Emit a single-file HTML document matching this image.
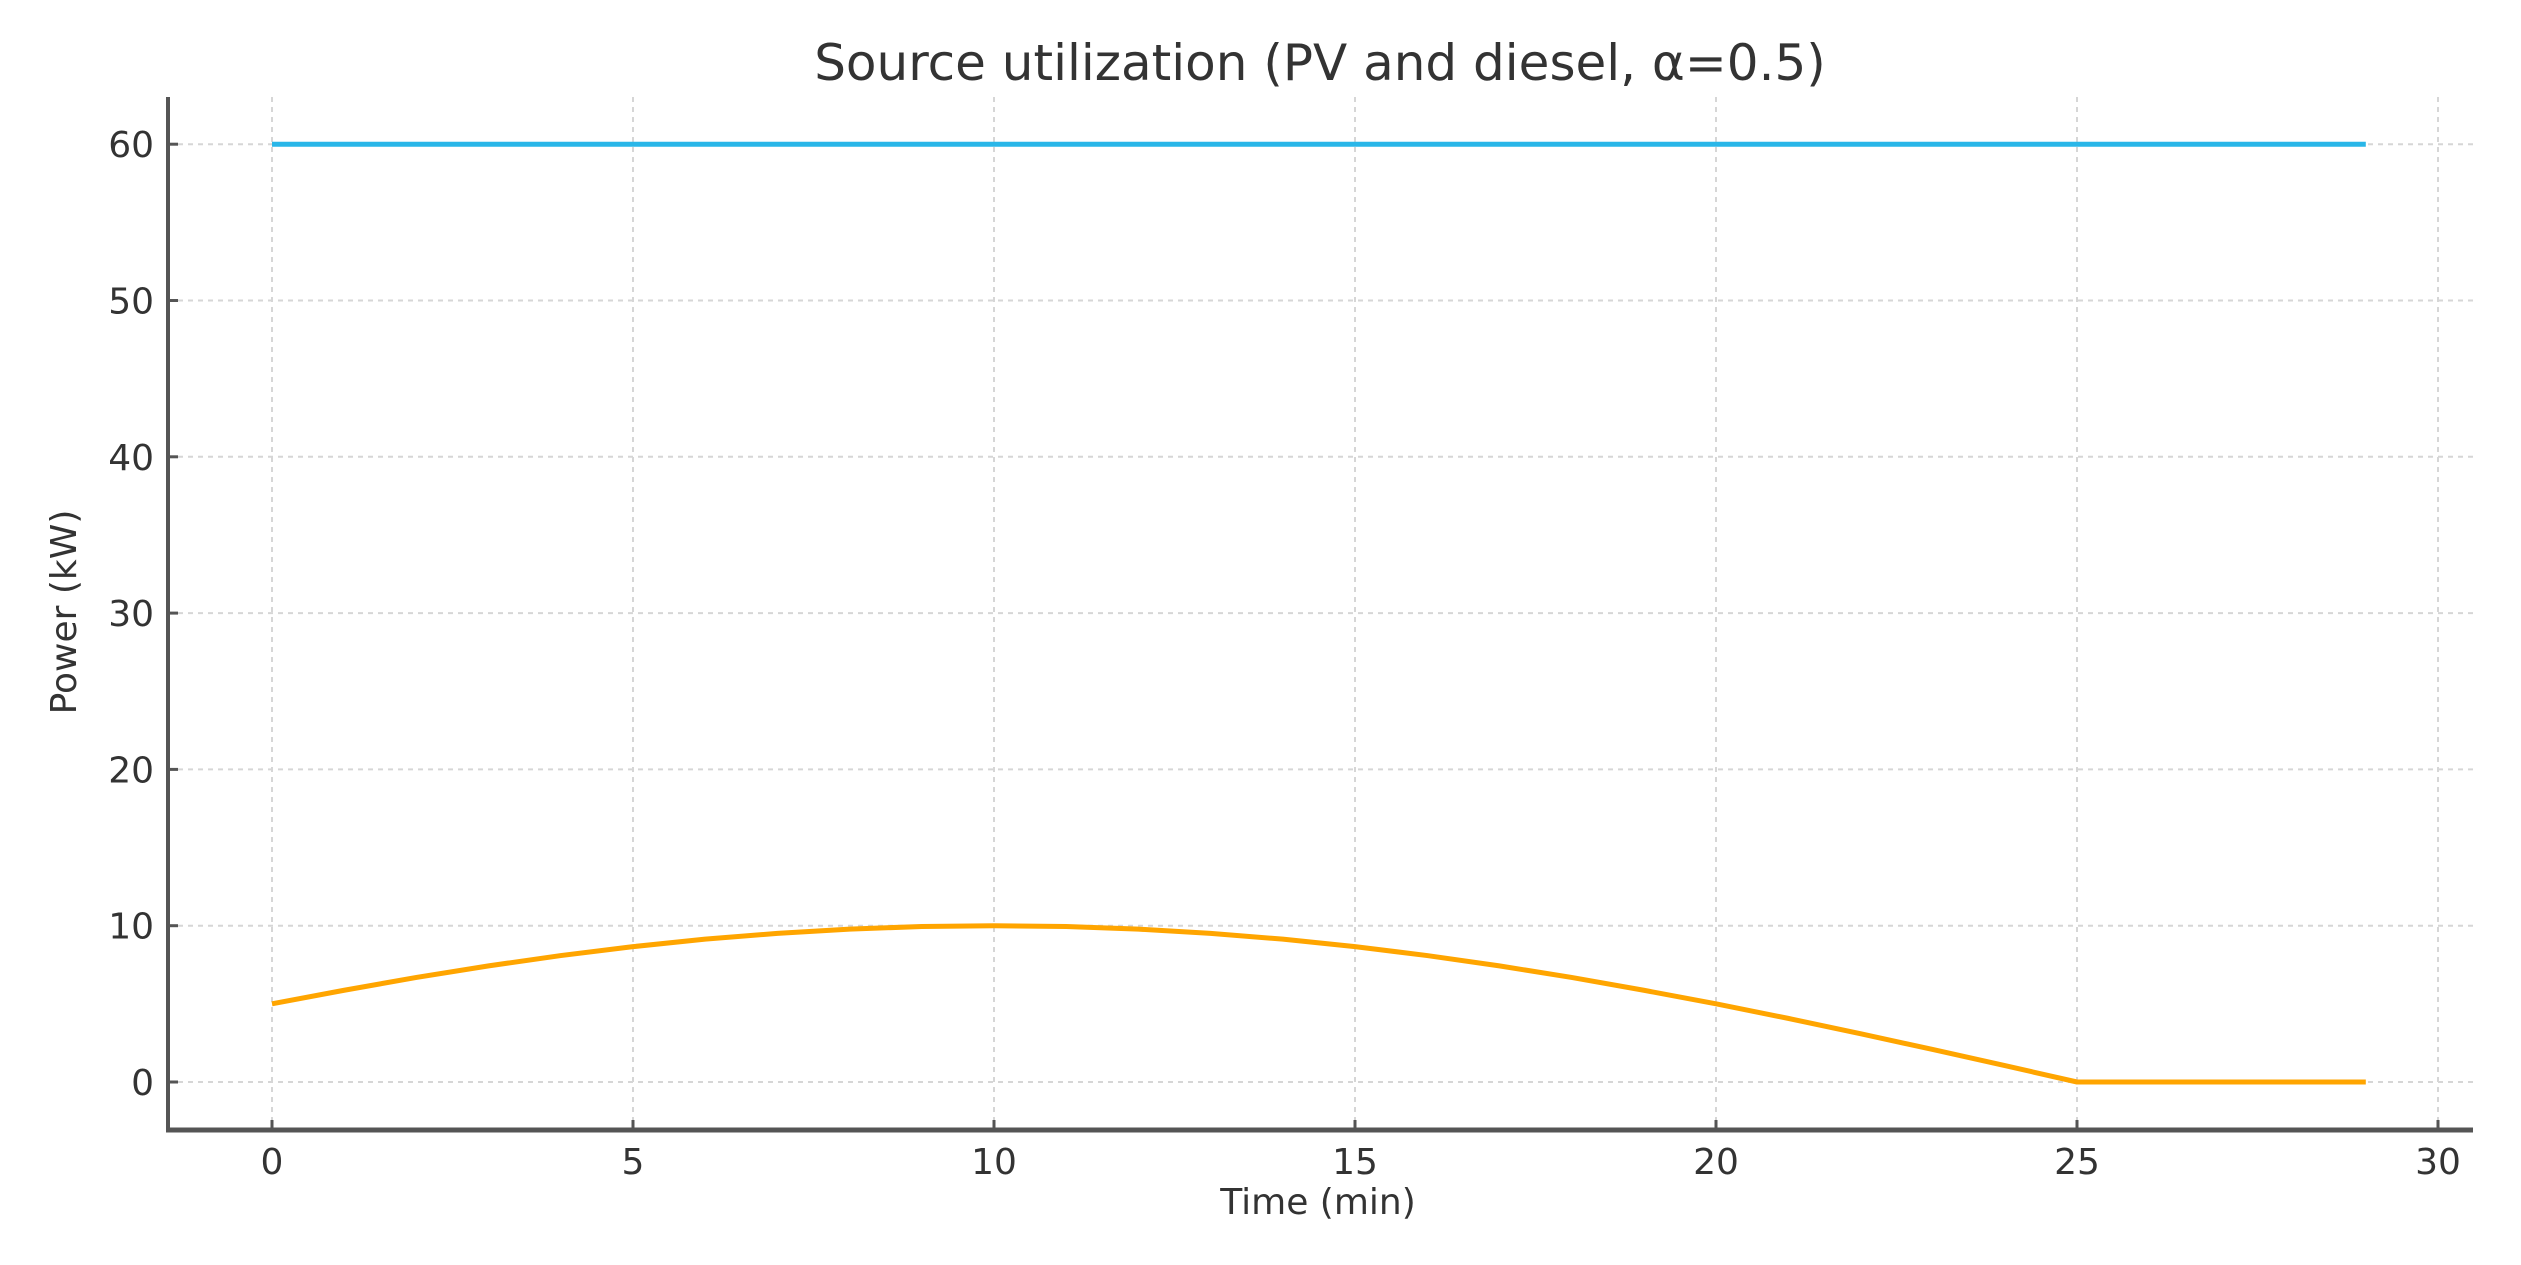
<!DOCTYPE html>
<html><head><meta charset="utf-8"><style>
html,body{margin:0;padding:0;background:#fff;}
svg{display:block;font-family:"DejaVu Sans","Liberation Sans",sans-serif;}
</style></head><body>
<svg id="chart" width="2521" height="1265" viewBox="0 0 2521 1265" xmlns="http://www.w3.org/2000/svg">
<rect width="2521" height="1265" fill="#fff"/>
<text x="1320" y="80" font-size="50" fill="#333" text-anchor="middle">Source utilization (PV and diesel, α=0.5)</text>
<g id="grid"></g>
<g id="series"></g>
<g id="axes"></g>
<text x="1318" y="1214" font-size="36" fill="#333" text-anchor="middle">Time (min)</text>
<text transform="translate(76,612) rotate(-90)" font-size="36" fill="#333" text-anchor="middle">Power (kW)</text>
</svg>
<script>
const times = [0,1,2,3,4,5,6,7,8,9,10,11,12,13,14,15,16,17,18,19,20,21,22,23,24,25,26,27,28,29];
const dieselPower = [60,60,60,60,60,60,60,60,60,60,60,60,60,60,60,60,60,60,60,60,60,60,60,60,60,60,60,60,60,60];
const pvPower = [5.0,5.87,6.69,7.43,8.09,8.66,9.14,9.51,9.78,9.95,10,9.95,9.78,9.51,9.14,8.66,8.09,7.43,6.69,5.87,5.0,4.07,3.09,2.08,1.05,0,0,0,0,0];
const xTicks = [0,5,10,15,20,25,30];
const yTicks = [0,10,20,30,40,50,60];

const NS='http://www.w3.org/2000/svg';
const X0=272, XU=72.2, Y0=1082, YU=15.63;
const AXL=168, AXR=2473, AXT=97, AXB=1130;
function sx(v){return X0+v*XU;}
function sy(v){return Y0-v*YU;}
function mk(tag,attrs,parent){const e=document.createElementNS(NS,tag);for(const k in attrs)e.setAttribute(k,attrs[k]);parent.appendChild(e);return e;}
const grid=document.getElementById('grid'), axes=document.getElementById('axes'), series=document.getElementById('series');

xTicks.forEach(t=>{
  const g=mk('line',{x1:sx(t),x2:sx(t),y1:AXT,y2:AXB,stroke:'#d6d6d6','stroke-width':2,'stroke-dasharray':'5,5'},grid);
  
  
  const tk=mk('line',{x1:sx(t),x2:sx(t),y1:AXB,y2:AXB-10,stroke:'#555','stroke-width':3},axes);
  
  
  const lb=mk('text',{x:sx(t),y:AXB+44,'font-size':36,fill:'#333','text-anchor':'middle'},axes);
  lb.textContent=t;
  
  
});
yTicks.forEach(t=>{
  const g=mk('line',{x1:AXL,x2:AXR,y1:sy(t),y2:sy(t),stroke:'#d6d6d6','stroke-width':2,'stroke-dasharray':'5,5'},grid);
  
  
  const tk=mk('line',{x1:AXL,x2:AXL+10,y1:sy(t),y2:sy(t),stroke:'#555','stroke-width':3},axes);
  
  
  const lb=mk('text',{x:AXL-14,y:sy(t)+13,'font-size':36,fill:'#333','text-anchor':'end'},axes);
  lb.textContent=t;
  
  
});
const la=mk('line',{x1:AXL,x2:AXL,y1:AXT,y2:AXB,stroke:'#555','stroke-width':4},axes);


const ba=mk('line',{x1:AXL-2,x2:AXR,y1:AXB,y2:AXB,stroke:'#555','stroke-width':5},axes);



function pts(arr){return times.map((t,i)=>sx(t)+','+sy(arr[i])).join(' ');}
const d=mk('polyline',{points:pts(dieselPower),fill:'none',stroke:'#29b6e8','stroke-width':5},series);


const p=mk('polyline',{points:pts(pvPower),fill:'none',stroke:'#ffa500','stroke-width':5,'stroke-linejoin':'round'},series);


</script>
</body></html>
